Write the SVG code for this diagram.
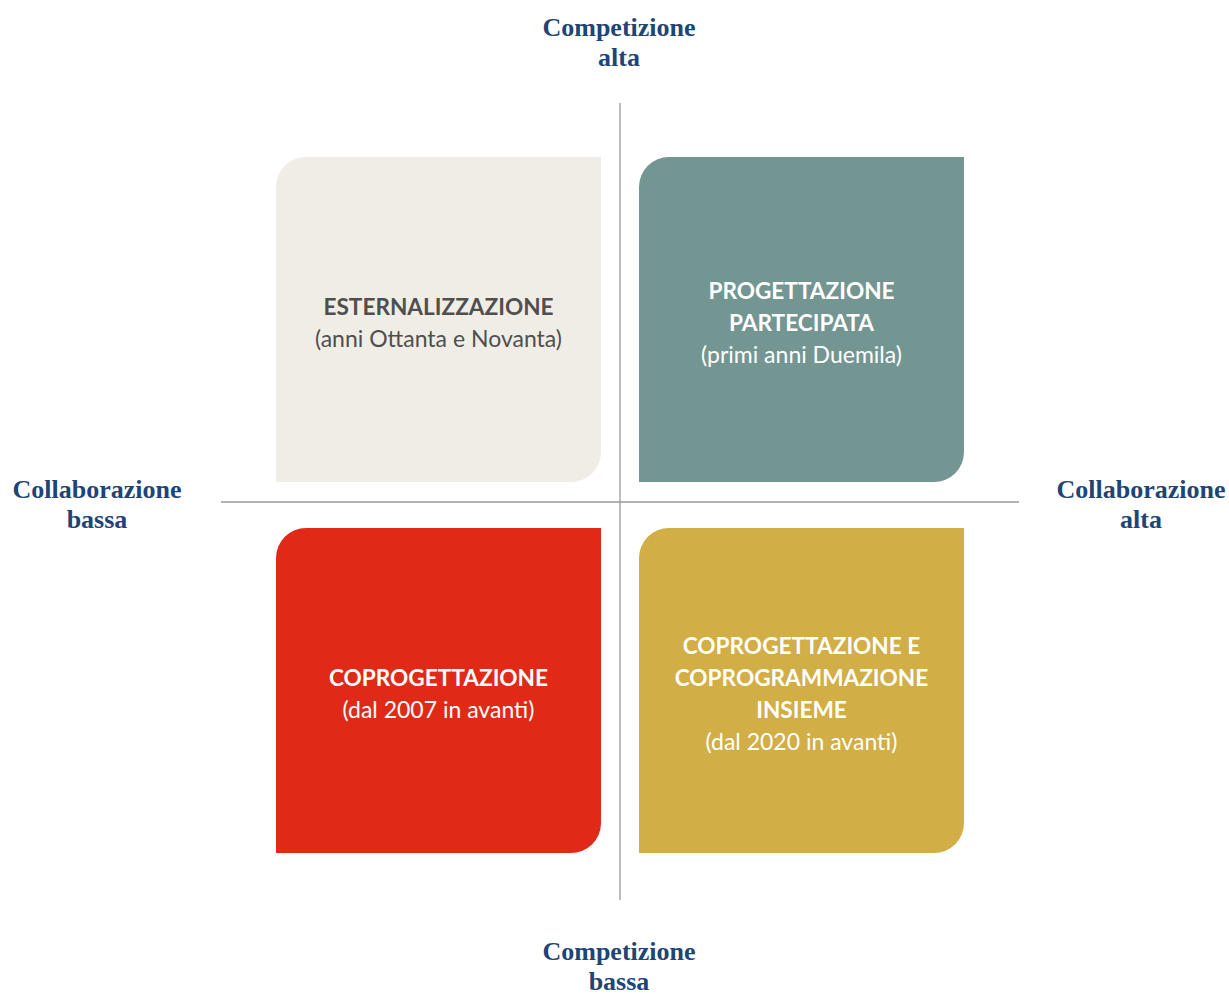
<svg xmlns="http://www.w3.org/2000/svg" width="1229" height="994" viewBox="0 0 1229 994">
<style>
.ax{font-family:"Liberation Serif","DejaVu Serif",serif;font-weight:bold;font-size:26px;fill:#1e4576;text-anchor:middle}
.t{font-family:Lato,"Open Sans",sans-serif;font-size:23px;text-anchor:middle}
.b{font-weight:bold;font-size:22.6px}
.dk{fill:#4f4f4f}
.wh{fill:#ffffff}
.ln{stroke:#9a9a9a;stroke-width:1.3;fill:none}
</style>
<rect width="1229" height="994" fill="#ffffff"/>
<g id="connectors">
<line class="ln" x1="620" y1="103" x2="620" y2="900"/>
<line class="ln" x1="221" y1="502" x2="1019" y2="502"/>
</g>
<g id="node-esternalizzazione">
<path d="M306,157 H601 V452 A30,30 0 0 1 571,482 H276 V187 A30,30 0 0 1 306,157 Z" fill="#f0ede6"/>
<text class="t b dk" x="438.5" y="315">ESTERNALIZZAZIONE</text>
<text class="t dk" x="438.5" y="347">(anni Ottanta e Novanta)</text>
</g>
<g id="node-progettazione">
<path d="M669,157 H964 V452 A30,30 0 0 1 934,482 H639 V187 A30,30 0 0 1 669,157 Z" fill="#739693"/>
<text class="t b wh" x="801.5" y="299">PROGETTAZIONE</text>
<text class="t b wh" x="801.5" y="331">PARTECIPATA</text>
<text class="t wh" x="801.5" y="363">(primi anni Duemila)</text>
</g>
<g id="node-coprogettazione">
<path d="M306,528 H601 V823 A30,30 0 0 1 571,853 H276 V558 A30,30 0 0 1 306,528 Z" fill="#e02a17"/>
<text class="t b wh" x="438.5" y="686">COPROGETTAZIONE</text>
<text class="t wh" x="438.5" y="718">(dal 2007 in avanti)</text>
</g>
<g id="node-coprogrammazione">
<path d="M669,528 H964 V823 A30,30 0 0 1 934,853 H639 V558 A30,30 0 0 1 669,528 Z" fill="#d1ae46"/>
<text class="t b wh" x="801.5" y="654">COPROGETTAZIONE E</text>
<text class="t b wh" x="801.5" y="686">COPROGRAMMAZIONE</text>
<text class="t b wh" x="801.5" y="718">INSIEME</text>
<text class="t wh" x="801.5" y="750">(dal 2020 in avanti)</text>
</g>
<g id="labels">
<text class="ax" x="619" y="36">Competizione</text>
<text class="ax" x="619" y="66">alta</text>
<text class="ax" x="619" y="960">Competizione</text>
<text class="ax" x="619" y="990">bassa</text>
<text class="ax" x="97" y="498">Collaborazione</text>
<text class="ax" x="97" y="528">bassa</text>
<text class="ax" x="1141" y="498">Collaborazione</text>
<text class="ax" x="1141" y="528">alta</text>
</g>
</svg>
